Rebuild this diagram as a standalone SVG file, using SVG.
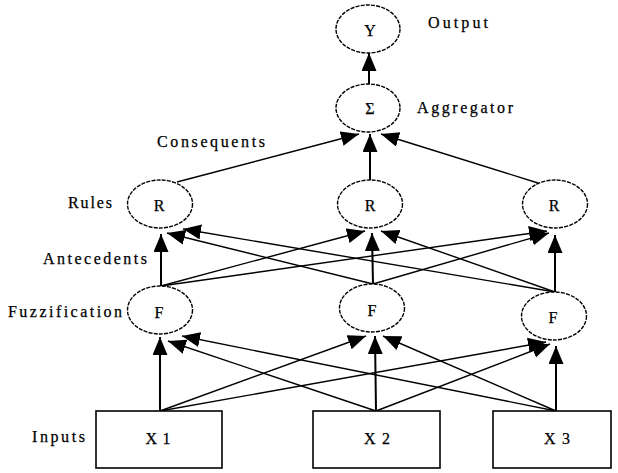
<svg xmlns="http://www.w3.org/2000/svg" width="618" height="473" viewBox="0 0 618 473">
<style>
  .bg { fill: #ffffff; }
  .node { fill: #ffffff; stroke: #000000; stroke-width: 1.4; stroke-dasharray: 4 1.2; }
  .box { fill: #ffffff; stroke: #000000; stroke-width: 1.6; }
  .lbl { font-family: "Liberation Serif", "Times New Roman", serif; font-size: 16px; fill: #000000; stroke: #000000; stroke-width: 0.25; }
  .ctr { text-anchor: middle; dominant-baseline: central; }
  .conn line { stroke: #000000; stroke-width: 1.4; marker-end: url(#ah); }
  .conn line.v { stroke-width: 2; }
</style>
<defs>
  <marker id="ah" markerUnits="userSpaceOnUse" markerWidth="19" markerHeight="16" refX="18" refY="7.5" orient="auto">
    <path d="M0,0 L18,7.5 L0,15 Z" fill="#000000"/>
  </marker>
</defs>
<rect class="bg" x="0" y="0" width="618" height="473"/>

<g id="connectors" class="conn">
  <!-- inputs to fuzzification -->
  <line class="v" x1="160" y1="411" x2="160" y2="337"/>
  <line x1="160" y1="411" x2="366" y2="336"/>
  <line x1="160" y1="411" x2="546" y2="342"/>
  <line x1="376" y1="411" x2="168" y2="341"/>
  <line class="v" x1="376" y1="411" x2="375" y2="336"/>
  <line x1="376" y1="411" x2="550" y2="344"/>
  <line x1="556" y1="411" x2="182" y2="336"/>
  <line x1="556" y1="411" x2="383" y2="336"/>
  <line class="v" x1="556" y1="411" x2="556" y2="346"/>
  <!-- fuzzification to rules -->
  <line class="v" x1="161" y1="286" x2="161" y2="234"/>
  <line x1="161" y1="286" x2="365" y2="231"/>
  <line x1="161" y1="286" x2="547" y2="231"/>
  <line x1="373" y1="284" x2="167" y2="233"/>
  <line class="v" x1="373" y1="284" x2="372" y2="233"/>
  <line x1="373" y1="284" x2="549" y2="233"/>
  <line x1="555" y1="292" x2="183" y2="229"/>
  <line x1="555" y1="292" x2="381" y2="231"/>
  <line class="v" x1="555" y1="292" x2="555" y2="235"/>
  <!-- rules to aggregator -->
  <line x1="177" y1="182" x2="359" y2="134"/>
  <line class="v" x1="370" y1="180" x2="370" y2="134"/>
  <line x1="538" y1="183" x2="381" y2="134"/>
  <!-- aggregator to output -->
  <line class="v" x1="369" y1="85" x2="369" y2="53"/>
</g>

<g id="node-Y">
  <ellipse class="node" cx="368" cy="29" rx="32" ry="24"/>
  <text class="lbl ctr" x="370" y="30">Y</text>
</g>
<g id="node-sum">
  <ellipse class="node" cx="368" cy="108" rx="32" ry="24"/>
  <text class="lbl ctr" x="370" y="108">Σ</text>
</g>
<g id="node-R1">
  <ellipse class="node" cx="160" cy="204" rx="32.5" ry="24"/>
  <text class="lbl ctr" x="159" y="205">R</text>
</g>
<g id="node-R2">
  <ellipse class="node" cx="370" cy="204" rx="32.5" ry="24"/>
  <text class="lbl ctr" x="370" y="205">R</text>
</g>
<g id="node-R3">
  <ellipse class="node" cx="555" cy="204" rx="32.5" ry="24"/>
  <text class="lbl ctr" x="554" y="205">R</text>
</g>
<g id="node-F1">
  <ellipse class="node" cx="160" cy="310" rx="32.5" ry="24"/>
  <text class="lbl ctr" x="159" y="312">F</text>
</g>
<g id="node-F2">
  <ellipse class="node" cx="372" cy="308" rx="32.5" ry="24"/>
  <text class="lbl ctr" x="372" y="310">F</text>
</g>
<g id="node-F3">
  <ellipse class="node" cx="554" cy="316" rx="32.5" ry="24"/>
  <text class="lbl ctr" x="553" y="317">F</text>
</g>
<g id="node-X1">
  <rect class="box" x="96" y="411" width="126" height="57"/>
  <text class="lbl ctr" x="158" y="438" textLength="25">X1</text>
</g>
<g id="node-X2">
  <rect class="box" x="313" y="411" width="127" height="57"/>
  <text class="lbl ctr" x="377" y="438" textLength="26">X2</text>
</g>
<g id="node-X3">
  <rect class="box" x="493" y="411" width="118" height="57"/>
  <text class="lbl ctr" x="557" y="438" textLength="26">X3</text>
</g>

<g id="labels">
  <text class="lbl" x="428" y="28" textLength="60">Output</text>
  <text class="lbl" x="417" y="113" textLength="96">Aggregator</text>
  <text class="lbl" x="157" y="147" textLength="108">Consequents</text>
  <text class="lbl" x="68" y="208" textLength="44">Rules</text>
  <text class="lbl" x="43" y="264" textLength="104">Antecedents</text>
  <text class="lbl" x="8" y="317" textLength="114">Fuzzification</text>
  <text class="lbl" x="32" y="442" textLength="53">Inputs</text>
</g>
</svg>
